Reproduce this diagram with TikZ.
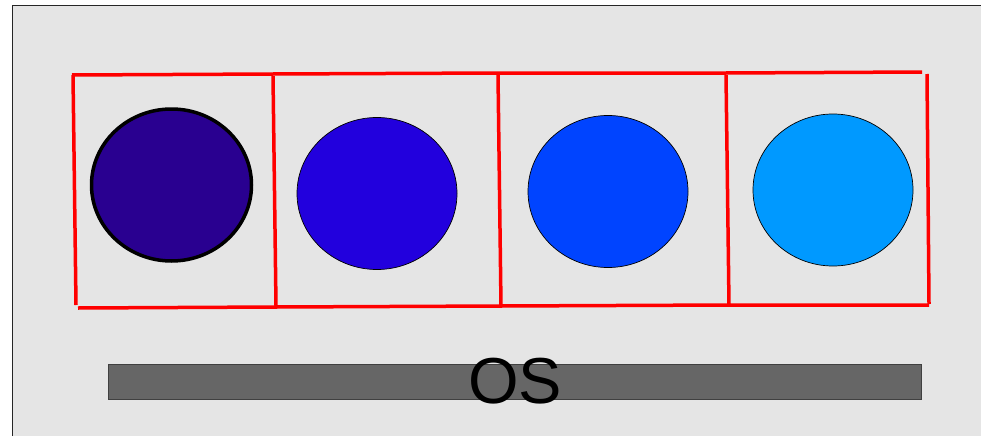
\documentclass[tikz,border=0pt]{standalone}
\usepackage{fontspec}
\setmainfont{Liberation Sans}
\usetikzlibrary{positioning,shapes.geometric}
\definecolor{paneGray}{HTML}{E5E5E5}
\definecolor{barGray}{HTML}{666666}
\definecolor{procA}{HTML}{290090}
\definecolor{procB}{HTML}{2200DD}
\definecolor{procC}{HTML}{0044FF}
\definecolor{procD}{HTML}{0099FF}

\begin{document}
\begin{tikzpicture}[x=1pt, y=-1pt,
  proc/.style={ellipse, draw, minimum width=160pt, minimum height=152pt,
               inner sep=0pt, line width=0.7pt},
  cell/.style={red, line width=3.5pt},
  osbar/.style={rectangle, draw=black!75, fill=barGray, line width=0.8pt,
                minimum width=813pt, minimum height=35pt, inner sep=0pt},
  oslbl/.style={inner sep=0pt, font=\fontsize{65}{65}\selectfont}
]
  \useasboundingbox (0,0) rectangle (981,436);

  % Pane (only top and left edges show)
  \fill[paneGray] (12,6) rectangle (981,436);
  \draw[black!85, line width=1pt] (12,436) -- (12,6) -- (981,6);

  % Red cells, drawn by hand
  \draw[cell] (72,75) -- (273,74) -- (498,73) -- (726,73) -- (922,72);
  \draw[cell] (73,75) -- (76,305);
  \draw[cell] (78,308) -- (276,307) -- (501,306) -- (729,305) -- (929,305);
  \draw[cell] (927,74) -- (929,304);
  \draw[cell] (273,76) -- (276,306);
  \draw[cell] (498,75) -- (501,306);
  \draw[cell] (726,75) -- (729,305);

  % Processes (left to right)
  \node[proc, fill=procA, line width=3.5pt] (p1) at (171.5,185) {};
  \node[proc, fill=procB] (p2) at (377,193.5) {};
  \node[proc, fill=procC] (p3) at (608,191.5) {};
  \node[proc, fill=procD] (p4) at (833,190) {};

  % Operating system
  \node[osbar] (os) at (515,381.5) {};
  \node[oslbl] (oslabel) at (515,381) {OS};
\end{tikzpicture}
\end{document}
